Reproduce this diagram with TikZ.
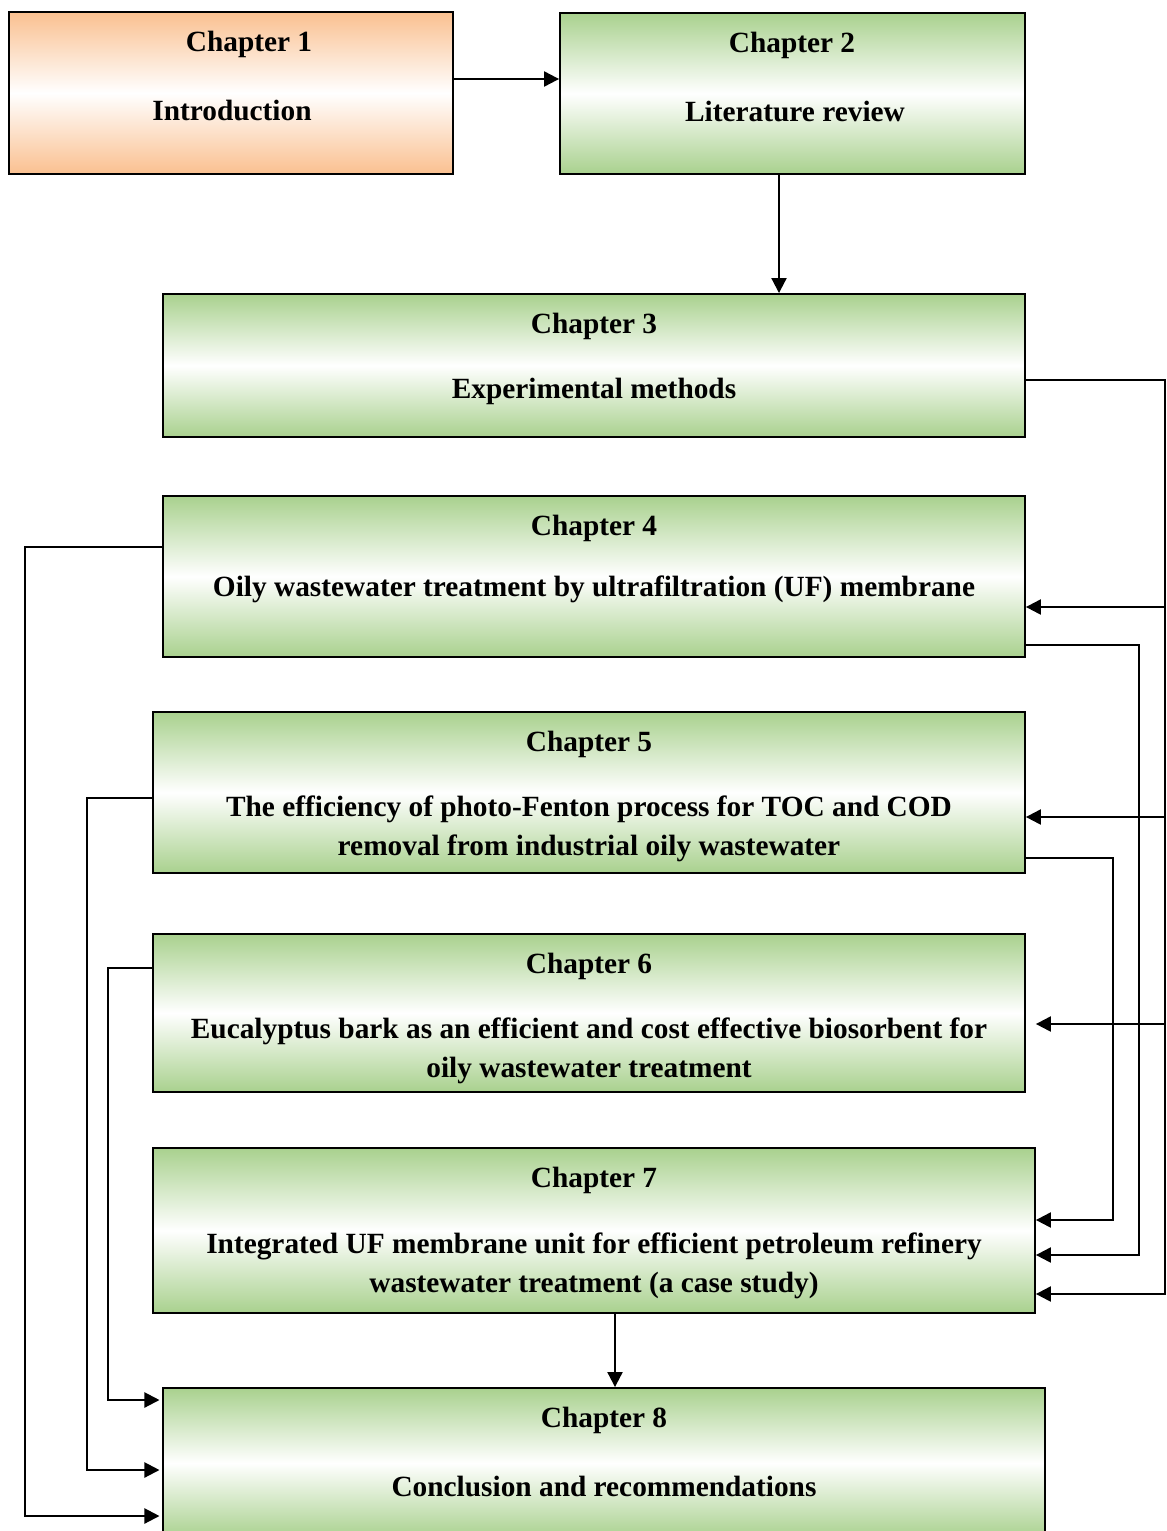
\documentclass[tikz,border=0pt]{standalone}
\usepackage{fontspec}
\setmainfont{Liberation Serif}
\usetikzlibrary{arrows.meta}

\definecolor{chgreen}{RGB}{169,209,142}
\definecolor{chorange}{RGB}{250,192,144}

\begin{document}
\begin{tikzpicture}[x=0.02cm, y=-0.02cm,
    boxline/.style={draw, line width=1.1pt},
    chbox/.style={boxline, top color=chgreen, bottom color=chgreen, middle color=white},
    introbox/.style={boxline, top color=chorange, bottom color=chorange, middle color=white},
    txt/.style={font=\fontsize{16.7}{22}\selectfont\bfseries, align=center},
    arr/.style={line width=1.2pt, -{Triangle[length=0.3cm, width=0.3cm]}}]
        \useasboundingbox (0,0) rectangle (1166,1531);

        % Boxes
        \node[introbox, minimum width=8.88cm, minimum height=3.24cm] (ch1) at (231,93) {};
        \node[chbox, minimum width=9.30cm, minimum height=3.22cm] (ch2) at (792.5,93.5) {};
        \node[chbox, minimum width=17.24cm, minimum height=2.86cm] (ch3) at (594,365.5) {};
        \node[chbox, minimum width=17.24cm, minimum height=3.22cm] (ch4) at (594,576.5) {};
        \node[chbox, minimum width=17.44cm, minimum height=3.22cm] (ch5) at (589,792.5) {};
        \node[chbox, minimum width=17.44cm, minimum height=3.16cm] (ch6) at (589,1013) {};
        \node[chbox, minimum width=17.64cm, minimum height=3.30cm] (ch7) at (594,1230.5) {};
        \node[chbox, minimum width=17.64cm, minimum height=3.00cm] (ch8) at (604,1463) {};

        % Labels
        \node[txt] (ch1a) at (249,44) {Chapter 1};
        \node[txt] (ch1b) at (232,110) {Introduction};
        \node[txt] (ch2a) at (792,45) {Chapter 2};
        \node[txt] (ch2b) at (795,111) {Literature review};
        \node[txt] (ch3a) at (594,326) {Chapter 3};
        \node[txt] (ch3b) at (594,391) {Experimental methods};
        \node[txt] (ch4a) at (594,528) {Chapter 4};
        \node[txt] (ch4b) at (594,589) {Oily wastewater treatment by ultrafiltration (UF) membrane};
        \node[txt] (ch5a) at (589,744) {Chapter 5};
        \node[txt] (ch5b) at (589,829) {The efficiency of photo-Fenton process for TOC and COD\\removal from industrial oily wastewater};
        \node[txt] (ch6a) at (589,966) {Chapter 6};
        \node[txt] (ch6b) at (589,1050.5) {Eucalyptus bark as an efficient and cost effective biosorbent for\\oily wastewater treatment};
        \node[txt] (ch7a) at (594,1180) {Chapter 7};
        \node[txt] (ch7b) at (594,1265.5) {Integrated UF membrane unit for efficient petroleum refinery\\wastewater treatment (a case study)};
        \node[txt] (ch8a) at (604,1420) {Chapter 8};
        \node[txt] (ch8b) at (604,1486) {Conclusion and recommendations};

        % Main flow
        \draw[arr] (ch1.east |- 0,79) -- (ch2.west |- 0,79);
        \draw[arr] (ch2.south -| 779,0) -- (ch3.north -| 779,0);
        \draw[arr] (ch7.south -| 615,0) -- (ch8.north -| 615,0);

        % Right side links
        \coordinate (busA) at (1165,0);
        \coordinate (busB) at (1139,0);
        \coordinate (busC) at (1113,0);
        \draw[arr] (ch3.east |- 0,380) -| (busA |- 0,1294) -- (ch7.east |- 0,1294);
        \draw[arr] (busA |- 0,607) -- (ch4.east |- 0,607);
        \draw[arr] (busA |- 0,817) -- (ch5.east |- 0,817);
        \draw[arr, shorten >=0.2cm] (busA |- 0,1024) -- (ch6.east |- 0,1024);
        \draw[arr] (ch4.east |- 0,645) -| (busB |- 0,1255) -- (ch7.east |- 0,1255);
        \draw[arr] (ch5.east |- 0,858) -| (busC |- 0,1220) -- (ch7.east |- 0,1220);

        % Left side links
        \coordinate (busD) at (25,0);
        \coordinate (busE) at (87,0);
        \coordinate (busF) at (108,0);
        \draw[arr, shorten >=1.5pt] (ch4.west |- 0,547) -| (busD |- 0,1516) -- (ch8.west |- 0,1516);
        \draw[arr, shorten >=1.5pt] (ch5.west |- 0,798) -| (busE |- 0,1470) -- (ch8.west |- 0,1470);
        \draw[arr, shorten >=1.5pt] (ch6.west |- 0,968) -| (busF |- 0,1400) -- (ch8.west |- 0,1400);
    \end{tikzpicture}
\end{document}
